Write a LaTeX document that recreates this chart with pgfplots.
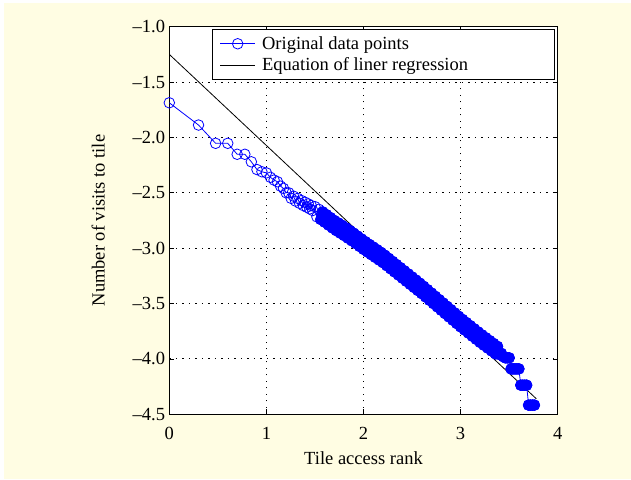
\documentclass[border=0pt]{standalone}
\usepackage{fontspec}
\setmainfont{Liberation Serif}
\usepackage{pgfplots}
\pgfplotsset{compat=1.18}
\definecolor{bgcream}{RGB}{255,253,227}
\definecolor{mblue}{RGB}{0,0,255}
\newcommand{\fsz}{\fontsize{18.5}{22}\selectfont}

\pgfplotstableread{
x y
0.000 -1.687
0.301 -1.888
0.477 -2.053
0.602 -2.053
0.699 -2.152
0.778 -2.152
0.845 -2.220
0.903 -2.290
0.954 -2.310
1.000 -2.320
1.041 -2.360
1.079 -2.385
1.114 -2.400
1.146 -2.440
1.176 -2.460
1.204 -2.500
1.230 -2.500
1.255 -2.550
1.279 -2.530
1.301 -2.575
1.322 -2.550
1.342 -2.595
1.362 -2.570
1.380 -2.615
1.398 -2.585
1.415 -2.630
1.431 -2.600
1.447 -2.645
1.462 -2.615
1.477 -2.660
1.50 -2.625
1.52 -2.717
1.54 -2.649
1.56 -2.741
1.58 -2.673
1.60 -2.765
1.62 -2.698
1.64 -2.791
1.66 -2.724
1.68 -2.817
1.70 -2.750
1.72 -2.841
1.74 -2.772
1.76 -2.863
1.78 -2.794
1.80 -2.885
1.82 -2.817
1.84 -2.909
1.86 -2.841
1.88 -2.933
1.90 -2.865
1.92 -2.958
1.94 -2.891
1.96 -2.984
1.98 -2.917
2.00 -3.010
2.02 -2.942
2.04 -3.034
2.06 -2.966
2.08 -3.058
2.10 -2.990
2.12 -3.082
2.14 -3.014
2.16 -3.106
2.18 -3.038
2.20 -3.130
2.22 -3.064
2.24 -3.158
2.26 -3.092
2.28 -3.186
2.30 -3.120
2.32 -3.214
2.34 -3.148
2.36 -3.242
2.38 -3.176
2.40 -3.270
2.42 -3.204
2.44 -3.298
2.46 -3.232
2.48 -3.326
2.50 -3.260
2.52 -3.354
2.54 -3.288
2.56 -3.382
2.58 -3.316
2.60 -3.410
2.62 -3.345
2.64 -3.440
2.66 -3.375
2.68 -3.470
2.70 -3.405
2.72 -3.500
2.74 -3.435
2.76 -3.530
2.78 -3.465
2.80 -3.560
2.82 -3.495
2.84 -3.590
2.86 -3.525
2.88 -3.620
2.90 -3.555
2.92 -3.650
2.94 -3.585
2.96 -3.680
2.98 -3.615
3.00 -3.710
3.02 -3.644
3.04 -3.738
3.06 -3.672
3.08 -3.766
3.10 -3.700
3.12 -3.794
3.14 -3.728
3.16 -3.822
3.18 -3.756
3.20 -3.850
3.22 -3.783
3.24 -3.876
3.26 -3.809
3.28 -3.902
3.30 -3.835
3.32 -3.928
3.34 -3.861
3.36 -3.954
3.38 -3.887
3.40 -3.960
3.42 -3.950
3.44 -3.980
3.46 -3.990
3.48 -3.990
3.50 -3.990
3.52 -4.090
3.54 -4.090
3.56 -4.090
3.58 -4.090
3.60 -4.090
3.62 -4.237
3.64 -4.237
3.66 -4.237
3.68 -4.237
3.70 -4.417
3.72 -4.417
3.74 -4.417
3.76 -4.417
}\visits

\begin{document}
\begin{tikzpicture}
\fill[white] (-169.3pt,-64.7pt) rectangle (461.7pt,414.3pt);
\fill[bgcream] (-165.3pt,-64.7pt) rectangle (461.7pt,411.3pt);
\begin{axis}[
  at={(0pt,0pt)}, anchor=south west,
  scale only axis, width=388.4pt, height=387.6pt,
  xmin=0, xmax=4, ymin=-4.5, ymax=-1,
  clip=false,
  axis background/.style={fill=white},
  xtick={0,1,2,3,4}, xticklabels={0,1,2,3,4},
  ytick={-4.5,-4,-3.5,-3,-2.5,-2,-1.5,-1},
  yticklabels={–4.5,–4.0,–3.5,–3.0,–2.5,–2.0,–1.5,–1.0},
  xticklabel style={font=\fsz, inner sep=0pt, yshift=-12.4pt},
  yticklabel style={font=\fsz, inner sep=0pt, xshift=-4pt},
  axis line style={black, line width=1pt},
  major tick length=5pt,
  tick style={black, line width=0.8pt},
  grid=major,
  major grid style={black, line width=0.9pt, dash pattern=on 1.2pt off 5.3pt},
  xlabel={Tile access rank},
  xlabel style={font=\fsz, at={([yshift=-37.4pt]axis description cs:0.5,0)}, anchor=north, inner sep=0pt},
  ylabel={Number of visits to tile},
  ylabel style={font=\fsz, at={([xshift=-64.3pt]axis description cs:0,0.5)}, anchor=south, inner sep=0pt},
  legend image code/.code={\draw[mark repeat=2,mark phase=2,#1] plot coordinates {(0pt,0pt) (17.5pt,0pt) (35pt,0pt)};},
  legend style={at={(1,1)}, anchor=north east, xshift=-2.7pt, yshift=-2.6pt,
    draw=black, line width=0.8pt, fill=white, font=\fsz,
    inner xsep=7pt, inner ysep=3.4pt, nodes={inner sep=3.5pt}},
  legend cell align=left,
]
\addplot[color=mblue, line width=0.8pt, mark=o, mark size=5.3pt] table[x=x, y=y] {\visits};
\addlegendentry{\makebox[285pt][l]{\hspace{3pt}Original data points}}
% dense part of the series: the overlapping circles read as a solid band
\addplot[forget plot, only marks, color=mblue, line width=0.8pt, mark=*, mark size=5.3pt,
  mark options={fill=mblue}, restrict x to domain=1.55:3.8] table[x=x, y=y] {\visits};
\addplot[black, line width=0.8pt] coordinates {(0,-1.25) (3.78,-4.36)};
\addlegendentry{\makebox[285pt][l]{\hspace{3pt}Equation of liner regression}}
\end{axis}
\end{tikzpicture}
\end{document}
